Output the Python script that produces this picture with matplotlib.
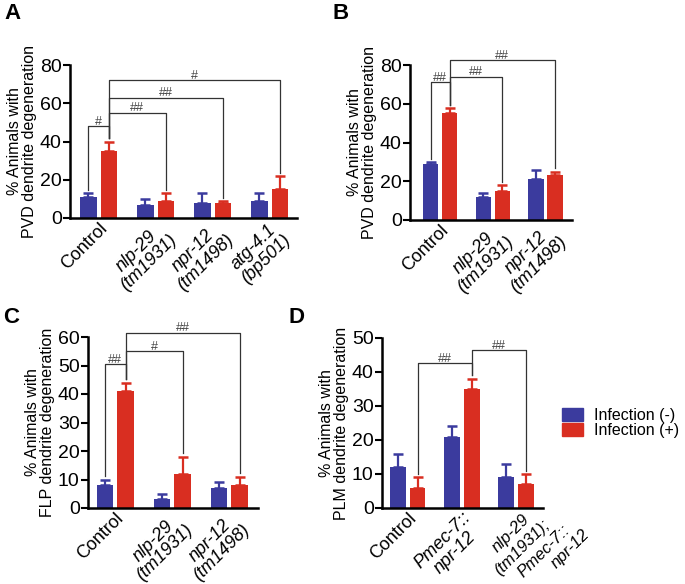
import numpy as np
import matplotlib.pyplot as plt
from matplotlib.patches import Patch
from matplotlib.transforms import offset_copy

plt.rcParams['font.family'] = ['Liberation Sans', 'DejaVu Sans']

BLUE = '#3b3b9e'
RED = '#d92e21'

# panel A - PVD
a_groups = ['Control', 'nlp-29\n(tm1931)', 'npr-12\n(tm1498)', 'atg-4.1\n(bp501)']
a_neg = [11, 7, 8, 9]
a_neg_err = [2, 3, 5, 4]
a_pos = [35, 9, 8, 15]
a_pos_err = [5, 4, 1, 7]
a_sig = [((0, 0), (0, 1), 48, '#'), ((0, 1), (1, 1), 55, '##'),
         ((0, 1), (2, 1), 63, '##'), ((0, 1), (3, 1), 72, '#')]

# panel B - PVD
b_groups = ['Control', 'nlp-29\n(tm1931)', 'npr-12\n(tm1498)']
b_neg = [29, 12, 21]
b_neg_err = [1, 2, 5]
b_pos = [55, 15, 23]
b_pos_err = [3, 3, 2]
b_sig = [((0, 0), (0, 1), 71, '##'), ((0, 1), (1, 1), 74, '##'),
         ((0, 1), (2, 1), 82.5, '##')]

# panel C - FLP
c_groups = ['Control', 'nlp-29\n(tm1931)', 'npr-12\n(tm1498)']
c_neg = [8, 3, 7]
c_neg_err = [2, 2, 2]
c_pos = [41, 12, 8]
c_pos_err = [3, 6, 3]
c_sig = [((0, 0), (0, 1), 50.5, '##'), ((0, 1), (1, 1), 55, '#'),
         ((0, 1), (2, 1), 61.5, '##')]

# panel D - PLM
d_groups = ['Control', 'Pmec-7::\nnpr-12', 'nlp-29\n(tm1931);\nPmec-7::\nnpr-12']
d_neg = [12, 21, 9]
d_neg_err = [4, 3, 4]
d_pos = [6, 35, 7]
d_pos_err = [3, 3, 3]
d_sig = [((0, 1), (1, 1), 42.7, '##'), ((1, 1), (2, 1), 46.4, '##')]

W, H = 685, 584
fig = plt.figure(figsize=(W / 100, H / 100), dpi=100)


def px_axes(x0, x1, y_top, y_bot):
    return fig.add_axes([x0 / W, 1 - y_bot / H, (x1 - x0) / W, (y_bot - y_top) / H])


def panel(ax, groups, neg, neg_err, pos, pos_err, ymax, ystep, ylabel, sig, xlim,
          stagger=None):
    x = np.arange(len(groups))
    off = [-0.18, 0.18]
    wd = 0.29
    vals = [neg, pos]
    errs = [neg_err, pos_err]
    for s, col in enumerate([BLUE, RED]):
        e = np.array(errs[s])
        ax.bar(x + off[s], vals[s], wd, color=col,
               yerr=[np.zeros_like(e), e],
               error_kw=dict(ecolor=col, capsize=3.3, elinewidth=1.6, capthick=1.8))
    ax.set_xlim(*xlim)
    ax.set_ylim(0, ymax)
    ax.set_yticks(np.arange(0, ymax + 1, ystep))
    ax.spines[['top', 'right']].set_visible(False)
    ax.spines['left'].set_linewidth(1.8)
    ax.spines['bottom'].set_linewidth(1.8)
    ax.tick_params(axis='y', direction='out', length=5, width=1.5, labelsize=14, pad=1)
    ax.tick_params(axis='x', length=0, labelsize=13, pad=1)
    ax.set_xticks(x)
    ax.set_xticklabels(groups, rotation=45, ha='right', va='top', rotation_mode='anchor',
                       multialignment='center', linespacing=1.0)
    for lab in ax.get_xticklabels():
        if lab.get_text() != 'Control':
            lab.set_style('italic')
    if stagger:
        # long label drawn as a staircase of single lines, like the original
        gi, offs = stagger
        ax.get_xticklabels()[gi].set_visible(False)
        for line, (dx, dy) in zip(groups[gi].split('\n'), offs):
            tr = offset_copy(ax.get_xaxis_transform(), fig=fig, x=dx, y=-dy, units='dots')
            ax.text(gi, 0, line, transform=tr, rotation=45, ha='right', va='top',
                    rotation_mode='anchor', fontsize=12, style='italic', clip_on=False)
    ax.set_ylabel(ylabel, fontsize=11.5, labelpad=2, linespacing=1.0)
    gap = 0.02 * ymax
    for (g1, s1), (g2, s2), h, lab in sig:
        x1 = g1 + off[s1]
        x2 = g2 + off[s2]
        y1 = vals[s1][g1] + errs[s1][g1] + gap
        y2 = vals[s2][g2] + errs[s2][g2] + gap
        ax.plot([x1, x1, x2, x2], [y1, h, h, y2], color='#333333', lw=0.9, clip_on=False)
        ax.text((x1 + x2) / 2, h - 0.01 * ymax, lab, ha='center', va='bottom', fontsize=9,
                color='#444444', clip_on=False)


ax_a = px_axes(70, 297, 65, 218)
panel(ax_a, a_groups, a_neg, a_neg_err, a_pos, a_pos_err, 80, 20,
      '% Animals with\nPVD dendrite degeneration', a_sig, (-0.5, 3.48))
ax_b = px_axes(410, 572, 65, 220)
panel(ax_b, b_groups, b_neg, b_neg_err, b_pos, b_pos_err, 80, 20,
      '% Animals with\nPVD dendrite degeneration', b_sig, (-0.57, 2.5))
ax_c = px_axes(88, 258, 337, 508)
panel(ax_c, c_groups, c_neg, c_neg_err, c_pos, c_pos_err, 60, 10,
      '% Animals with\nFLP dendrite degeneration', c_sig, (-0.48, 2.5))
ax_d = px_axes(382, 543, 338, 508)
panel(ax_d, d_groups, d_neg, d_neg_err, d_pos, d_pos_err, 50, 10,
      '% Animals with\nPLM dendrite degeneration', d_sig, (-0.48, 2.5),
      stagger=(2, [(6, 4), (26, 9), (46, 14), (66, 19)]))

for lab, xp, yp in [('A', 4, 3), ('B', 333, 3), ('C', 3, 307), ('D', 288, 307)]:
    fig.text(xp / W, 1 - yp / H, lab, fontsize=16, fontweight='bold', va='top', ha='left')

handles = [Patch(color=BLUE, label='Infection (-)'), Patch(color=RED, label='Infection (+)')]
fig.legend(handles=handles, loc='center left', bbox_to_anchor=(562 / W, 1 - 423 / H),
           frameon=False, fontsize=11.5, handlelength=1.3, handleheight=0.8,
           handletextpad=0.7, labelspacing=0.0, borderaxespad=0, borderpad=0)

fig.savefig('out.png', dpi=100)
